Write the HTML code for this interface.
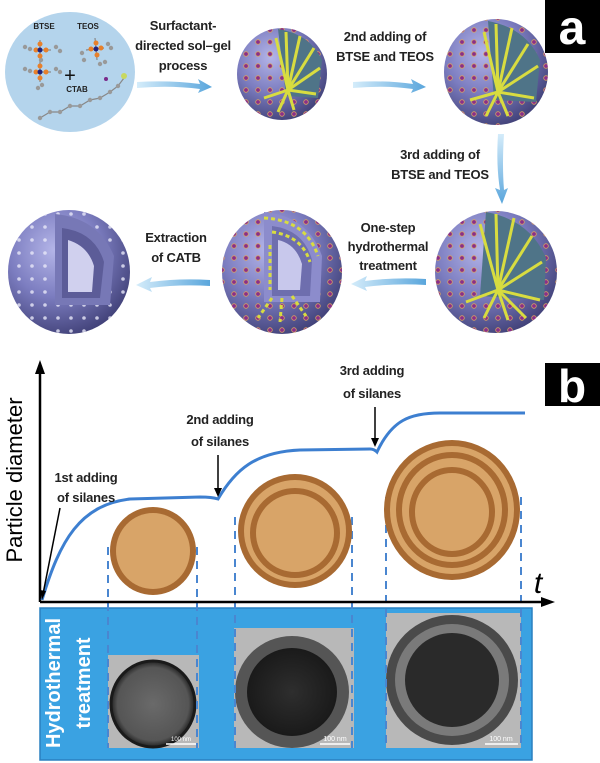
<!DOCTYPE html>
<html><head><meta charset="utf-8"><style>
html,body{margin:0;padding:0;background:#fff;}
svg{display:block;}
text{font-family:"Liberation Sans",sans-serif;}
.lb{font-size:13px;font-weight:bold;fill:#222;text-anchor:middle;letter-spacing:-0.2px;}
</style></head><body>
<svg width="600" height="763" viewBox="0 0 600 763" xmlns="http://www.w3.org/2000/svg">
<defs>
<radialGradient id="sph" cx="0.38" cy="0.32" r="0.75">
<stop offset="0" stop-color="#b4b5e8"/><stop offset="0.5" stop-color="#7c7dc0"/><stop offset="1" stop-color="#3c3c72"/>
</radialGradient>
<pattern id="dots" width="12" height="12" patternUnits="userSpaceOnUse">
<circle cx="6" cy="6" r="2.3" fill="#8a2f8a" stroke="#d8a060" stroke-width="0.8"/>
</pattern>
<pattern id="wdots" width="13" height="13" patternUnits="userSpaceOnUse">
<circle cx="6" cy="6" r="1.8" fill="#e8e8f8"/>
</pattern>
<linearGradient id="arr" x1="0" x2="1"><stop offset="0" stop-color="#d4ecfa"/><stop offset="1" stop-color="#5aa6dc"/></linearGradient>
<linearGradient id="arrd" x1="0" y1="0" x2="0" y2="1"><stop offset="0" stop-color="#d4ecfa"/><stop offset="1" stop-color="#5aa6dc"/></linearGradient>
<radialGradient id="tem1" cx="0.5" cy="0.5" r="0.5"><stop offset="0" stop-color="#6a6a6a"/><stop offset="0.85" stop-color="#555"/><stop offset="1" stop-color="#222"/></radialGradient>
<radialGradient id="tem2" cx="0.5" cy="0.5" r="0.5"><stop offset="0" stop-color="#2e2e2e"/><stop offset="1" stop-color="#1a1a1a"/></radialGradient>
</defs>

<rect x="545" y="0" width="55" height="53" fill="#000"/>
<text x="572" y="44" font-size="48" font-weight="bold" fill="#fff" text-anchor="middle">a</text>

<ellipse cx="70" cy="72" rx="65" ry="60" fill="#b4d4ec"/>
<text x="44" y="29" font-size="8" font-weight="bold" fill="#222" text-anchor="middle">BTSE</text>
<text x="88" y="29" font-size="8" font-weight="bold" fill="#222" text-anchor="middle">TEOS</text>
<text x="77" y="92" font-size="8" font-weight="bold" fill="#222" text-anchor="middle">CTAB</text>
<text x="70" y="82" font-size="20" fill="#111" text-anchor="middle">+</text>
<g stroke="#888" stroke-width="1.2" fill="#999">
<line x1="39" y1="50" x2="51" y2="50"/><line x1="39" y1="72" x2="51" y2="72"/><line x1="40" y1="40" x2="40" y2="82"/>
<line x1="86" y1="50" x2="104" y2="48"/><line x1="95" y1="38" x2="97" y2="60"/>
<polyline fill="none" points="40,118 50,112 60,112 70,106 80,106 90,100 100,98 110,92 118,86 124,78"/>
</g>
<g fill="#999">
<circle cx="25" cy="47" r="2.2"/><circle cx="30" cy="49" r="2.2"/><circle cx="56" cy="47" r="2.2"/><circle cx="60" cy="51" r="2.2"/>
<circle cx="25" cy="69" r="2.2"/><circle cx="30" cy="71" r="2.2"/><circle cx="56" cy="69" r="2.2"/><circle cx="60" cy="72" r="2.2"/>
<circle cx="42" cy="85" r="2.2"/><circle cx="38" cy="88" r="2.2"/><circle cx="41" cy="60" r="2.2"/>
<circle cx="82" cy="53" r="2.2"/><circle cx="84" cy="60" r="2.2"/><circle cx="108" cy="44" r="2.2"/><circle cx="111" cy="48" r="2.2"/>
<circle cx="100" cy="64" r="2.2"/><circle cx="105" cy="62" r="2.2"/>
<circle cx="40" cy="118" r="2.2"/><circle cx="50" cy="112" r="2.2"/><circle cx="60" cy="112" r="2.2"/><circle cx="70" cy="106" r="2.2"/><circle cx="80" cy="106" r="2.2"/><circle cx="90" cy="100" r="2.2"/><circle cx="100" cy="98" r="2.2"/><circle cx="110" cy="92" r="2.2"/><circle cx="118" cy="86" r="2.2"/>
</g>
<g fill="#e8802a">
<circle cx="36" cy="50" r="2.5"/><circle cx="46" cy="50" r="2.5"/><circle cx="40" cy="44" r="2.5"/><circle cx="40" cy="56" r="2.5"/>
<circle cx="36" cy="72" r="2.5"/><circle cx="46" cy="72" r="2.5"/><circle cx="40" cy="66" r="2.5"/><circle cx="40" cy="78" r="2.5"/>
<circle cx="91" cy="49" r="2.5"/><circle cx="101" cy="48" r="2.5"/><circle cx="96" cy="43" r="2.5"/><circle cx="97" cy="55" r="2.5"/>
</g>
<g fill="#23237a"><circle cx="40" cy="50" r="2.5"/><circle cx="40" cy="72" r="2.5"/><circle cx="96" cy="49" r="2.5"/></g>
<circle cx="106" cy="79" r="2" fill="#7a2a8a"/><circle cx="124" cy="76" r="3" fill="#c8d860"/>

<text class="lb" x="183" y="30">Surfactant-</text>
<text class="lb" x="183" y="50">directed sol–gel</text>
<text class="lb" x="183" y="70">process</text>
<text class="lb" x="385" y="41">2nd adding of</text>
<text class="lb" x="385" y="61">BTSE and TEOS</text>
<text class="lb" x="440" y="159">3rd adding of</text>
<text class="lb" x="440" y="179">BTSE and TEOS</text>
<text class="lb" x="388" y="232">One-step</text>
<text class="lb" x="388" y="251">hydrothermal</text>
<text class="lb" x="388" y="270">treatment</text>
<text class="lb" x="176" y="242">Extraction</text>
<text class="lb" x="176" y="262">of CATB</text>

<path d="M137,82 Q170,80 200,84 L198,79 L212,87 L198,93 L200,89 Q170,85 137,88 Z" fill="url(#arr)"/>
<path d="M353,82 Q385,80 413,84 L411,79 L426,87 L411,93 L413,89 Q385,85 353,88 Z" fill="url(#arr)"/>
<path d="M498,134 Q496,165 500,190 L495,188 L502,204 L508,188 L504,190 Q502,165 504,134 Z" fill="url(#arrd)"/>
<path d="M426,279 Q395,277 365,281 L367,276 L351,284 L367,291 L365,287 Q395,283 426,285 Z" fill="url(#arr)"/>
<path d="M210,280 Q180,278 150,282 L152,277 L136,285 L152,292 L150,288 Q180,284 210,286 Z" fill="url(#arr)"/>

<!-- sphere 1 -->
<ellipse cx="282" cy="74" rx="45" ry="46" fill="url(#sph)"/>
<ellipse cx="282" cy="74" rx="45" ry="46" fill="url(#dots)"/>
<path d="M278,29 Q310,34 322,60 L318,98 L286,96 Z" fill="#4f7488"/>
<g stroke="#d8dc40" stroke-width="3">
<line x1="288" y1="90" x2="286" y2="32"/><line x1="288" y1="90" x2="300" y2="36"/><line x1="288" y1="90" x2="314" y2="48"/><line x1="288" y1="90" x2="320" y2="68"/><line x1="288" y1="90" x2="276" y2="38"/><line x1="288" y1="90" x2="264" y2="98"/><line x1="288" y1="90" x2="278" y2="112"/><line x1="288" y1="90" x2="316" y2="94"/><line x1="288" y1="90" x2="294" y2="110"/>
</g>
<!-- sphere 2 -->
<ellipse cx="496" cy="72" rx="52" ry="53" fill="url(#sph)"/>
<ellipse cx="496" cy="72" rx="52" ry="53" fill="url(#dots)"/>
<path d="M488,21 Q526,28 540,60 L536,102 L494,100 Z" fill="#4f7488"/>
<g stroke="#d8dc40" stroke-width="3">
<line x1="498" y1="92" x2="496" y2="24"/><line x1="498" y1="92" x2="512" y2="28"/><line x1="498" y1="92" x2="528" y2="44"/><line x1="498" y1="92" x2="538" y2="66"/><line x1="498" y1="92" x2="484" y2="32"/><line x1="498" y1="92" x2="470" y2="100"/><line x1="498" y1="92" x2="486" y2="116"/><line x1="498" y1="92" x2="534" y2="98"/><line x1="498" y1="92" x2="508" y2="116"/>
</g>
<!-- sphere 3 -->
<ellipse cx="496" cy="272" rx="61" ry="61" fill="url(#sph)"/>
<ellipse cx="496" cy="272" rx="61" ry="61" fill="url(#dots)"/>
<path d="M486,212 Q530,220 546,258 L544,300 L480,296 Z" fill="#4f7488"/>
<g stroke="#d8dc40" stroke-width="3">
<line x1="498" y1="290" x2="496" y2="214"/><line x1="498" y1="290" x2="514" y2="218"/><line x1="498" y1="290" x2="532" y2="236"/><line x1="498" y1="290" x2="542" y2="262"/><line x1="498" y1="290" x2="480" y2="224"/><line x1="498" y1="290" x2="466" y2="302"/><line x1="498" y1="290" x2="484" y2="318"/><line x1="498" y1="290" x2="540" y2="300"/><line x1="498" y1="290" x2="508" y2="320"/><line x1="498" y1="290" x2="526" y2="318"/>
</g>
<!-- sphere 4 -->
<ellipse cx="282" cy="272" rx="60" ry="62" fill="url(#sph)"/>
<ellipse cx="282" cy="272" rx="60" ry="62" fill="url(#dots)"/>
<path d="M264,212 Q308,216 322,256 L320,302 L264,302 Z" fill="#8c8ccc"/>
<path d="M272,226 Q304,230 312,260 L310,296 L272,296 Z" fill="#6e6eae"/>
<path d="M278,240 Q296,244 302,264 L300,290 L278,290 Z" fill="#c8c8ec"/>
<g stroke="#d8dc40" stroke-width="3" stroke-dasharray="4 3">
<path d="M264,218 Q306,220 318,256" fill="none"/><path d="M272,232 Q302,236 310,262" fill="none"/>
<line x1="272" y1="298" x2="258" y2="318"/><line x1="282" y1="298" x2="280" y2="322"/><line x1="292" y1="296" x2="306" y2="316"/><line x1="270" y1="245" x2="270" y2="290"/>
</g>
<!-- sphere 5 -->
<ellipse cx="69" cy="272" rx="61" ry="62" fill="url(#sph)"/>
<ellipse cx="69" cy="272" rx="61" ry="62" fill="url(#wdots)" opacity="0.8"/>
<path d="M55,214 Q98,218 114,256 L110,305 L55,305 Z" fill="#7778b6"/>
<path d="M62,228 Q95,232 104,262 L100,298 L62,298 Z" fill="#5c5c98"/>
<path d="M68,240 Q88,246 94,266 L92,292 L68,292 Z" fill="#d0d0ee"/>

<rect x="545" y="363" width="55" height="43" fill="#000"/>
<text x="572" y="402" font-size="46" font-weight="bold" fill="#fff" text-anchor="middle">b</text>

<rect x="40" y="608" width="492" height="152" fill="#3aa2e2" stroke="#2a80c0" stroke-width="1.5"/>
<text transform="translate(60,683) rotate(-90)" font-size="20" font-weight="bold" fill="#fff" text-anchor="middle">Hydrothermal</text>
<text transform="translate(90,683) rotate(-90)" font-size="20" font-weight="bold" fill="#fff" text-anchor="middle">treatment</text>

<rect x="108" y="655" width="91" height="93" fill="#b8b8b8"/>
<ellipse cx="153" cy="704" rx="42" ry="43" fill="url(#tem1)"/>
<ellipse cx="153" cy="704" rx="42" ry="43" fill="none" stroke="#1a1a1a" stroke-width="3"/>
<line x1="166" y1="744" x2="196" y2="744" stroke="#fff" stroke-width="1.5"/><text x="181" y="741" font-size="6" fill="#fff" text-anchor="middle">100 nm</text>
<rect x="234" y="628" width="120" height="120" fill="#b8b8b8"/>
<ellipse cx="292" cy="692" rx="57" ry="56" fill="#555"/>
<ellipse cx="292" cy="692" rx="45" ry="44" fill="url(#tem2)"/>
<line x1="320" y1="744" x2="350" y2="744" stroke="#fff" stroke-width="1.5"/><text x="335" y="741" font-size="7" fill="#fff" text-anchor="middle">100 nm</text>
<rect x="386" y="613" width="135" height="135" fill="#b8b8b8"/>
<ellipse cx="452" cy="680" rx="66" ry="65" fill="#4a4a4a"/>
<ellipse cx="452" cy="680" rx="57" ry="56" fill="#7a7a7a"/>
<ellipse cx="452" cy="680" rx="47" ry="47" fill="#2a2a2a"/>
<line x1="485" y1="744" x2="518" y2="744" stroke="#fff" stroke-width="1.5"/><text x="501" y="741" font-size="7" fill="#fff" text-anchor="middle">100 nm</text>

<g stroke="#4a86d0" stroke-width="2" stroke-dasharray="8 6">
<line x1="108" y1="547" x2="108" y2="748"/><line x1="197" y1="547" x2="197" y2="748"/>
<line x1="235" y1="517" x2="235" y2="748"/><line x1="352" y1="517" x2="352" y2="748"/>
<line x1="386" y1="497" x2="386" y2="748"/><line x1="521" y1="497" x2="521" y2="748"/>
</g>

<ellipse cx="153" cy="551" rx="43" ry="44" fill="#a86a32"/>
<ellipse cx="153" cy="551" rx="37" ry="38" fill="#d8a468"/>
<ellipse cx="295" cy="531" rx="57" ry="57" fill="#a86a32"/>
<ellipse cx="295" cy="531" rx="51" ry="51" fill="#d8a468"/>
<ellipse cx="295" cy="533" rx="42" ry="42" fill="none" stroke="#a86a32" stroke-width="6"/>
<ellipse cx="452" cy="510" rx="68" ry="70" fill="#a86a32"/>
<ellipse cx="452" cy="510" rx="62" ry="64" fill="#d8a468"/>
<ellipse cx="452" cy="510" rx="53" ry="55" fill="none" stroke="#a86a32" stroke-width="6"/>
<ellipse cx="452" cy="512" rx="40" ry="42" fill="none" stroke="#a86a32" stroke-width="6"/>

<line x1="40" y1="602" x2="40" y2="372" stroke="#000" stroke-width="2.5"/>
<polygon points="40,360 35,374 45,374" fill="#000"/>
<line x1="40" y1="602" x2="542" y2="602" stroke="#000" stroke-width="2.5"/>
<polygon points="555,602 541,597 541,607" fill="#000"/>
<text x="538" y="593" font-size="30" font-style="italic" fill="#000" text-anchor="middle">t</text>
<text transform="translate(22,480) rotate(-90)" font-size="22" fill="#000" text-anchor="middle">Particle diameter</text>

<path d="M42,600 C60,540 80,505 130,499 L200,497 Q212,497 218,499 C235,470 255,452 300,450 L370,449 Q374,449 377,452 C392,420 410,413 440,413 L525,413" fill="none" stroke="#3d7fd0" stroke-width="3"/>

<text class="lb" x="86" y="482" font-size="14">1st adding</text>
<text class="lb" x="86" y="502" font-size="14">of silanes</text>
<line x1="60" y1="508" x2="43" y2="594" stroke="#000" stroke-width="1.5"/>
<polygon points="42,600 40,590 46,591" fill="#000"/>
<text class="lb" x="220" y="424" font-size="14">2nd adding</text>
<text class="lb" x="220" y="446" font-size="14">of silanes</text>
<line x1="218" y1="455" x2="218" y2="490" stroke="#000" stroke-width="1.5"/>
<polygon points="218,497 214,488 222,488" fill="#000"/>
<text class="lb" x="372" y="375" font-size="14">3rd adding</text>
<text class="lb" x="372" y="398" font-size="14">of silanes</text>
<line x1="375" y1="407" x2="375" y2="440" stroke="#000" stroke-width="1.5"/>
<polygon points="375,447 371,438 379,438" fill="#000"/>
</svg>
</body></html>
